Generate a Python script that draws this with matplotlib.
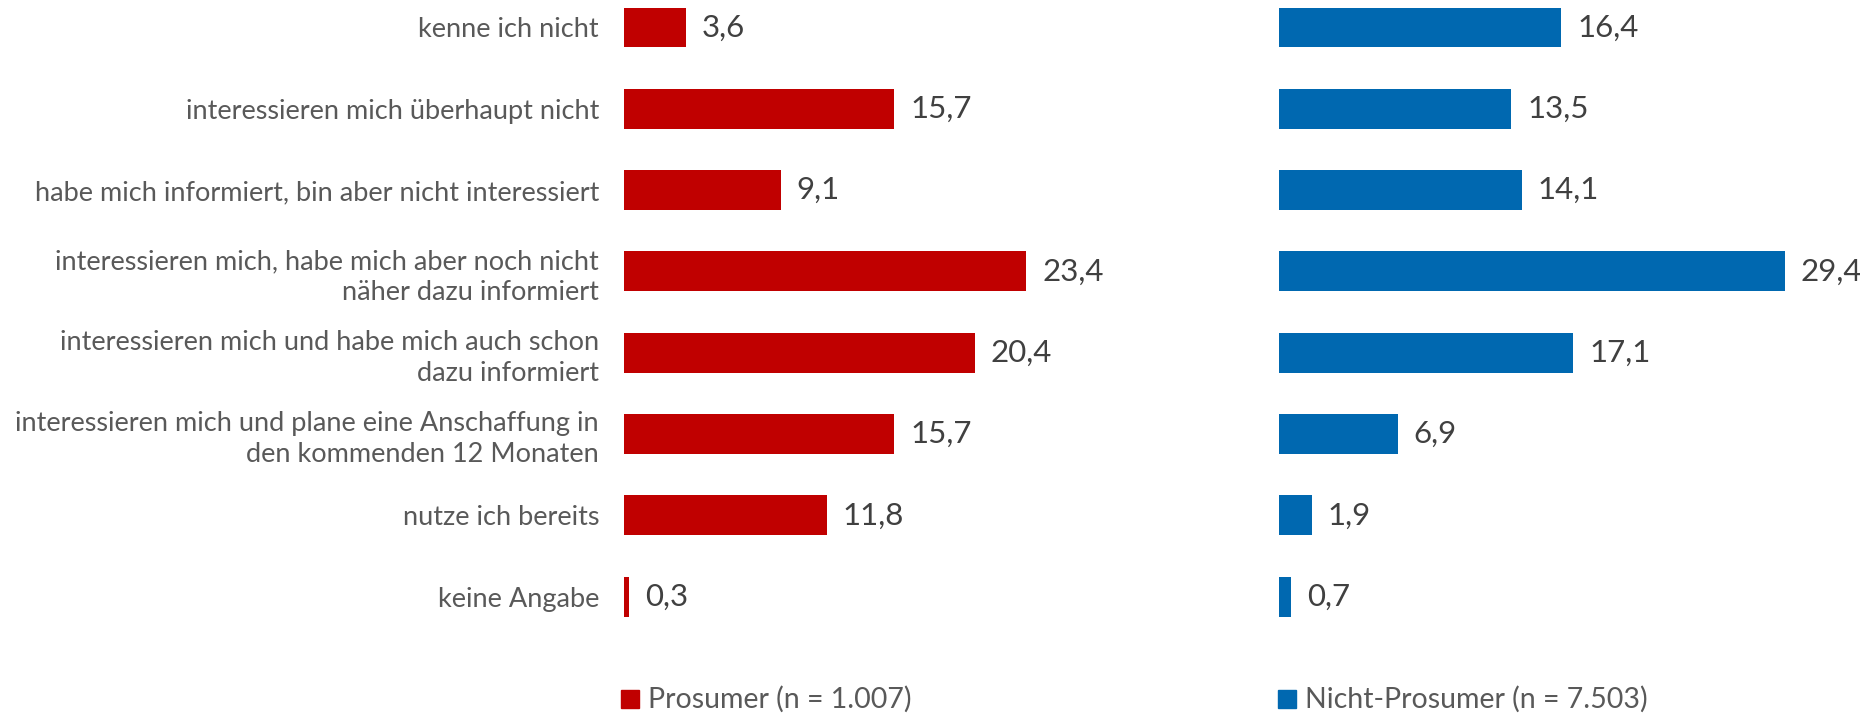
import matplotlib
matplotlib.use('Agg')
import matplotlib.pyplot as plt

plt.rcParams['font.family'] = ['Lato', 'DejaVu Sans']

categories = [
    'kenne ich nicht',
    'interessieren mich überhaupt nicht',
    'habe mich informiert, bin aber nicht interessiert',
    'interessieren mich, habe mich aber noch nicht\nnäher dazu informiert',
    'interessieren mich und habe mich auch schon\ndazu informiert',
    'interessieren mich und plane eine Anschaffung in\nden kommenden 12 Monaten',
    'nutze ich bereits',
    'keine Angabe',
]
prosumer = [3.6, 15.7, 9.1, 23.4, 20.4, 15.7, 11.8, 0.3]
nicht_prosumer = [16.4, 13.5, 14.1, 29.4, 17.1, 6.9, 1.9, 0.7]
legend_labels = ['Prosumer (n = 1.007)', 'Nicht-Prosumer (n = 7.503)']

RED = '#C00000'
BLUE = '#0068B0'
W, H = 1860, 713

fig = plt.figure(figsize=(W / 100, H / 100), dpi=100)

def px_axes(x0, x1, y0, y1):
    return fig.add_axes([x0 / W, 1 - y1 / H, (x1 - x0) / W, (y1 - y0) / H])

scale = 17.2  # px per unit
ymin_px, ymax_px = 0, 650
c0, step = 27.5, 81.3
ylim = ((ymax_px - c0) / step, (ymin_px - c0) / step)

axl = px_axes(624, 1200, ymin_px, ymax_px)
axr = px_axes(1279, 1860, ymin_px, ymax_px)

pos = list(range(len(categories)))
for ax, vals, col, x0, x1 in [(axl, prosumer, RED, 624, 1200), (axr, nicht_prosumer, BLUE, 1279, 1860)]:
    ax.barh(pos, vals, height=0.49, color=col)
    ax.set_xlim(0, (x1 - x0) / scale)
    ax.set_ylim(*ylim)
    for p, v in zip(pos, vals):
        ax.text(v + 16 / scale, p, f'{v:.1f}'.replace('.', ','), va='center', ha='left',
                fontsize=22.5, color='#404040', clip_on=False)
    ax.set_xticks([])
    for s in ax.spines.values():
        s.set_visible(False)

axl.set_yticks(pos)
axl.set_yticklabels(categories, fontsize=19.5, color='#595959', linespacing=1.3)
axl.tick_params(axis='y', length=0, pad=18)
axr.set_yticks([])

# legend
for x_sq, label, col in [(621, legend_labels[0], RED), (1278, legend_labels[1], BLUE)]:
    fig.patches.append(plt.Rectangle((x_sq / W, 1 - 708 / H), 18 / W, 18 / H,
                                     transform=fig.transFigure, color=col))
    fig.text((x_sq + 27) / W, 1 - 699 / H, label, fontsize=20.5, color='#595959',
             va='center', ha='left')

fig.savefig('out.png', dpi=100)
